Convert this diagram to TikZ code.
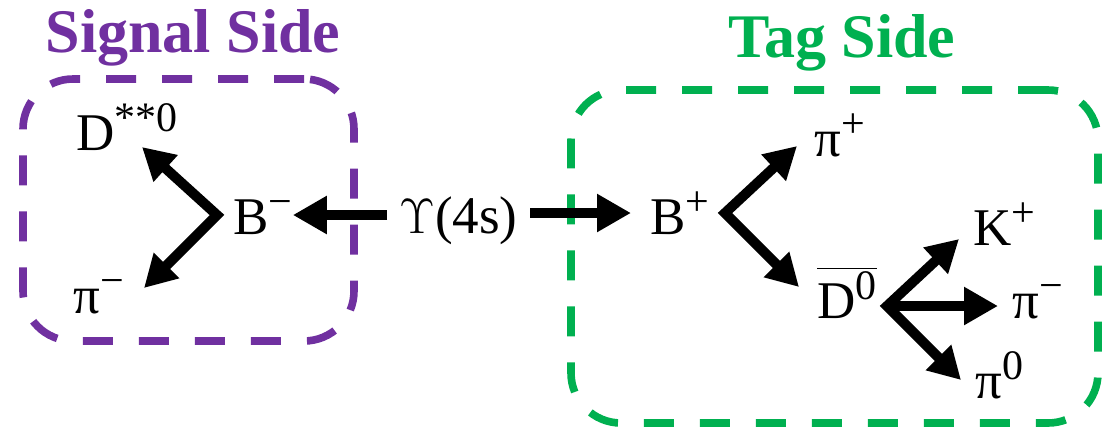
\documentclass[tikz,border=0pt]{standalone}
\usepackage{fontspec}
\setmainfont{Liberation Serif}
\usetikzlibrary{arrows.meta, positioning, calc}
\definecolor{sigpurple}{HTML}{7030A0}
\definecolor{taggreen}{HTML}{00B050}
\newcommand{\sups}[1]{\raisebox{9.5pt}{\fontsize{21pt}{23pt}\selectfont #1}}
\newcommand{\Dbar}{$\overline{\hbox{D\sups{0}}}$}

\begin{document}
\begin{tikzpicture}[x=0.5pt, y=-0.5pt,
  lbl/.style={inner sep=0pt, anchor=base west, font=\fontsize{26.5pt}{30pt}\selectfont},
  sidetitle/.style={inner sep=0pt, anchor=base, font=\fontsize{31pt}{36pt}\selectfont\bfseries},
  sidebox/.style={draw, line width=3.8pt, dash pattern=on 15pt off 13pt, rounded corners=25pt, inner sep=0pt},
  decay/.style={line width=5pt, -{Triangle[length=17pt,width=18pt]}},
  split/.style={line width=5pt, {Triangle[length=16pt,width=17pt]}-{Triangle[length=16pt,width=17pt]}}]
\useasboundingbox (0,0) rectangle (1117,430);

% Tag side
\node[sidebox, taggreen, minimum width=263.5pt, minimum height=166.5pt] (tagbox) at (834.5,256.5) {};
\node[sidetitle, text=taggreen] (tagtitle) at (842,57) {Tag Side};

% Particles
\node[lbl] (dss) at (76,150) {D\sups{**0}};
\node[lbl] (pil) at (73,313) {π\sups{−}};
\node[lbl] (bm) at (233,234) {B\sups{−}};
\node[lbl, inner xsep=6pt] (ups) at (387,233) {$\Upsilon$(4s)};
\node[lbl] (bp) at (650,234) {B\sups{+}};
\node[lbl] (pip) at (814,156) {π\sups{+}};
\node[lbl] (dbar) at (817,318) {\Dbar};
\node[lbl] (kp) at (973,245) {K\sups{+}};
\node[lbl] (pim) at (1012,318) {π\sups{−}};
\node[lbl] (piz) at (975,398) {π\sups{0}};

% Decay vertices and tips
\coordinate (bmv) at (217,215);
\coordinate (dsstip) at (142,147);
\coordinate (piltip) at (144,288);
\coordinate (bpv) at (725,213);
\coordinate (piptip) at (797,146);
\coordinate (dbartip) at (799,287);
\coordinate (dv) at (887,306);
\coordinate (kptip) at (959,239);
\coordinate (pimtip) at (998,306);
\coordinate (piztip) at (961,380);

% Arrows
\draw[decay] (ups.west |- bmv) -- (bm.east |- bmv);
\draw[decay] (ups.east |- bpv) -- ([xshift=-9.5pt]bp.west |- bpv);
\draw[split] (dsstip) -- (bmv) -- (piltip);
\draw[split] (piptip) -- (bpv) -- (dbartip);
\draw[split] (kptip) -- (dv) -- (piztip);
\draw[decay] (dv) -- (pimtip);

% Signal side
\node[sidebox, sigpurple, minimum width=165.5pt, minimum height=131pt] (sigbox) at (188.5,210) {};
\node[sidetitle, text=sigpurple] (sigtitle) at (193,52) {Signal Side};
\end{tikzpicture}
\end{document}
